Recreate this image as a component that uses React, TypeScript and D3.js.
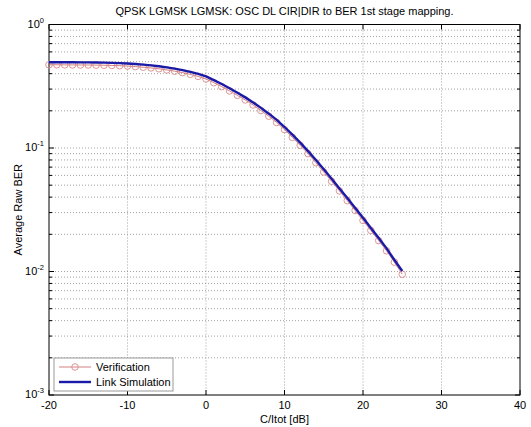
import React from "react";
import * as d3 from "d3";

const snrDb = [
  -20, -19, -18, -17, -16, -15, -14, -13, -12, -11,
  -10, -9, -8, -7, -6, -5, -4, -3, -2, -1,
  0, 1, 2, 3, 4, 5, 6, 7, 8, 9,
  10, 11, 12, 13, 14, 15, 16, 17, 18, 19,
  20, 21, 22, 23, 24, 25,
];

const linkSimulation = [
  0.4943, 0.4943, 0.4943, 0.4943, 0.4932, 0.4932, 0.492, 0.4909, 0.4887, 0.4864,
  0.4831, 0.4786, 0.4732, 0.4667, 0.4592, 0.4498, 0.4395, 0.4276, 0.414, 0.399,
  0.3802, 0.3548, 0.3296, 0.3048, 0.2805, 0.257, 0.2339, 0.2113, 0.1897, 0.169,
  0.1479, 0.1282, 0.1104, 0.0944, 0.08, 0.0673, 0.0564, 0.0471, 0.0393, 0.0327,
  0.0272, 0.0225, 0.0187, 0.0154, 0.0124, 0.0101,
];

const verification = [
  0.472, 0.472, 0.471, 0.471, 0.47, 0.47, 0.469, 0.468, 0.466, 0.464,
  0.461, 0.456, 0.451, 0.445, 0.438, 0.429, 0.419, 0.408, 0.395, 0.38,
  0.362, 0.338, 0.314, 0.29, 0.267, 0.245, 0.223, 0.201, 0.181, 0.161,
  0.141, 0.122, 0.105, 0.09, 0.076, 0.064, 0.0538, 0.0449, 0.0375, 0.0312,
  0.0259, 0.0215, 0.0178, 0.0147, 0.0119, 0.0095,
];

const xTicks = [-20, -10, 0, 10, 20, 30, 40];
const yDecades = [0, -1, -2, -3];

const title = "QPSK LGMSK LGMSK: OSC DL CIR|DIR to BER 1st stage mapping.";
const xLabel = "C/Itot [dB]";
const yLabel = "Average Raw BER";
const legendLabels = ["Verification", "Link Simulation"];

const W = 531;
const H = 427;
const M = { left: 49, right: 520, top: 24.5, bottom: 395 };
const FONT = "'Liberation Sans', Arial, sans-serif";
const BLUE = "#1a1aa8";
const RED_LINE = "#c04848";
const RED_MARK = "#d88a8a";
const GRID = "#8a8a8a";

export default function App() {
  const x = d3.scaleLinear().domain([-20, 40]).range([M.left, M.right]);
  const y = d3.scaleLog().domain([1e-3, 1]).range([M.bottom, M.top]);

  const minorVals: number[] = [];
  for (let e = -3; e < 0; e++) {
    for (let k = 2; k <= 9; k++) minorVals.push(k * Math.pow(10, e));
  }

  const line = d3
    .line<number>()
    .x((_, i) => x(snrDb[i]))
    .y((d) => y(d));

  const plotW = M.right - M.left;
  const plotH = M.bottom - M.top;

  const lg = { x: 54, y: 358, w: 119, h: 33 };

  return (
    <svg
      width={W}
      height={H}
      style={{ position: "absolute", left: 0, top: 0, background: "#fff" }}
      fontFamily={FONT}
    >
      <rect x={0} y={0} width={W} height={H} fill="#fff" />
      {/* grid */}
      <g stroke={GRID} strokeWidth={0.8} strokeDasharray="1,2" fill="none">
        {xTicks.slice(1, -1).map((t) => (
          <line key={"vx" + t} x1={x(t)} x2={x(t)} y1={M.top} y2={M.bottom} />
        ))}
        {yDecades.slice(1, -1).map((e) => (
          <line key={"hy" + e} x1={M.left} x2={M.right} y1={y(Math.pow(10, e))} y2={y(Math.pow(10, e))} />
        ))}
        {minorVals.map((v) => (
          <line key={"hm" + v} x1={M.left} x2={M.right} y1={y(v)} y2={y(v)} />
        ))}
      </g>
      {/* axes box */}
      <rect x={M.left} y={M.top} width={plotW} height={plotH} fill="none" stroke="#000" strokeWidth={1} />
      {/* ticks */}
      <g stroke="#000" strokeWidth={1}>
        {xTicks.map((t) => (
          <g key={"tx" + t}>
            <line x1={x(t)} x2={x(t)} y1={M.bottom} y2={M.bottom - 5} />
            <line x1={x(t)} x2={x(t)} y1={M.top} y2={M.top + 5} />
          </g>
        ))}
        {yDecades.map((e) => (
          <g key={"ty" + e}>
            <line x1={M.left} x2={M.left + 5} y1={y(Math.pow(10, e))} y2={y(Math.pow(10, e))} />
            <line x1={M.right} x2={M.right - 5} y1={y(Math.pow(10, e))} y2={y(Math.pow(10, e))} />
          </g>
        ))}
        {minorVals.map((v) => (
          <g key={"tm" + v}>
            <line x1={M.left} x2={M.left + 3} y1={y(v)} y2={y(v)} />
            <line x1={M.right} x2={M.right - 3} y1={y(v)} y2={y(v)} />
          </g>
        ))}
      </g>
      {/* tick labels */}
      <g fontSize={11} fill="#000">
        {xTicks.map((t) => (
          <text key={"lx" + t} x={x(t)} y={M.bottom + 14} textAnchor="middle">
            {t}
          </text>
        ))}
        {yDecades.map((e) => (
          <text key={"ly" + e} x={M.left - 5} y={y(Math.pow(10, e)) + 3} textAnchor="end">
            10<tspan fontSize={7.5} dy={-5}>{e}</tspan>
          </text>
        ))}
      </g>
      {/* labels */}
      <text x={(M.left + M.right) / 2} y={15} textAnchor="middle" fontSize={11}>
        {title}
      </text>
      <text x={(M.left + M.right) / 2} y={423} textAnchor="middle" fontSize={11}>
        {xLabel}
      </text>
      <text
        transform={`translate(${22},${(M.top + M.bottom) / 2}) rotate(-90)`}
        textAnchor="middle"
        fontSize={11}
      >
        {yLabel}
      </text>
      {/* series */}
      <path d={line(verification) || ""} fill="none" stroke={RED_LINE} strokeWidth={0.7} />
      <g fill="none" stroke={RED_MARK} strokeWidth={0.9}>
        {verification.map((v, i) => (
          <circle key={"c" + i} cx={x(snrDb[i])} cy={y(v)} r={3.3} />
        ))}
      </g>
      <path d={line(linkSimulation) || ""} fill="none" stroke={BLUE} strokeWidth={2.4} />
      {/* legend */}
      <g>
        <rect x={lg.x} y={lg.y} width={lg.w} height={lg.h} fill="#fff" stroke="#999" strokeWidth={1} />
        <line x1={59} x2={91} y1={lg.y + 9} y2={lg.y + 9} stroke={RED_LINE} strokeWidth={0.7} />
        <circle cx={75} cy={lg.y + 9} r={3.3} fill="none" stroke={RED_MARK} strokeWidth={0.9} />
        <text x={96} y={lg.y + 13} fontSize={11}>
          {legendLabels[0]}
        </text>
        <line x1={59} x2={91} y1={lg.y + 24} y2={lg.y + 24} stroke={BLUE} strokeWidth={2.4} />
        <text x={96} y={lg.y + 28} fontSize={11}>
          {legendLabels[1]}
        </text>
      </g>
    </svg>
  );
}
